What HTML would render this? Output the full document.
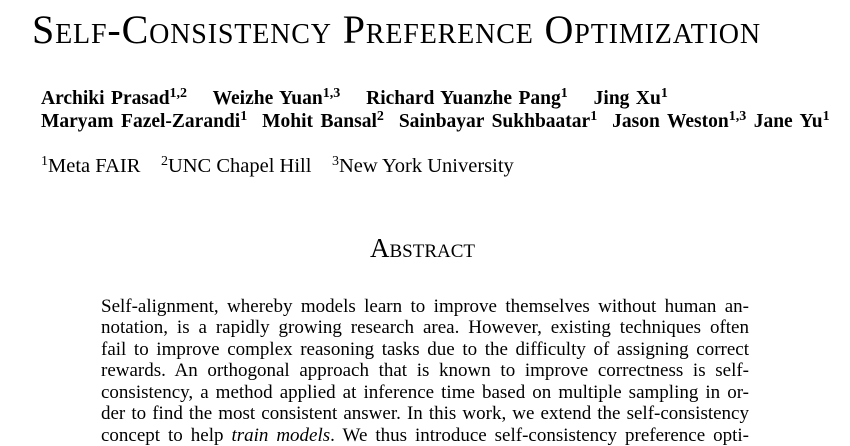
<!DOCTYPE html>
<html><head><meta charset="utf-8"><style>
body{margin:0;width:850px;height:446px;background:#fff;overflow:hidden;font-family:"Liberation Serif",serif;color:#000;position:relative}
.a{position:absolute;white-space:nowrap}
.t{left:32px;top:6px;font-size:40px;font-variant:small-caps;letter-spacing:0.85px}
.au{font-weight:bold;font-size:19.5px}
sup{font-size:14px;vertical-align:7px;line-height:0}
.ln{position:absolute;left:101px;width:648px;font-size:19px;text-align:justify;text-align-last:justify;white-space:nowrap;line-height:20px}
</style></head><body>
<div class="a t">Self-Consistency Preference Optimization</div>
<div class="a au" style="left:41px;top:88px;word-spacing:1.6px">Archiki Prasad<sup>1,2</sup>&nbsp;&nbsp;&nbsp; Weizhe Yuan<sup>1,3</sup>&nbsp;&nbsp;&nbsp; Richard Yuanzhe Pang<sup>1</sup>&nbsp;&nbsp;&nbsp; Jing Xu<sup>1</sup></div>
<div class="a au" style="left:41px;top:111px;word-spacing:2.6px">Maryam Fazel-Zarandi<sup>1</sup>&nbsp; Mohit Bansal<sup>2</sup>&nbsp; Sainbayar Sukhbaatar<sup>1</sup>&nbsp; Jason Weston<sup>1,3</sup> Jane Yu<sup>1</sup></div>
<div class="a" style="left:41px;top:155px;font-size:20.5px"><sup>1</sup>Meta FAIR &nbsp;&nbsp; <sup>2</sup>UNC Chapel Hill &nbsp;&nbsp; <sup>3</sup>New York University</div>
<div class="a" style="left:370px;top:233px;font-size:27px;font-variant:small-caps">Abstract</div>
<div>
<div class="ln" style="top:297px">Self-alignment, whereby models learn to improve themselves without human an-</div>
<div class="ln" style="top:318px">notation, is a rapidly growing research area. However, existing techniques often</div>
<div class="ln" style="top:340px">fail to improve complex reasoning tasks due to the difficulty of assigning correct</div>
<div class="ln" style="top:361px">rewards. An orthogonal approach that is known to improve correctness is self-</div>
<div class="ln" style="top:383px">consistency, a method applied at inference time based on multiple sampling in or-</div>
<div class="ln" style="top:404px">der to find the most consistent answer. In this work, we extend the self-consistency</div>
<div class="ln" style="top:426px">concept to help <i>train models</i>. We thus introduce self-consistency preference opti-</div>
</div>
</body></html>
